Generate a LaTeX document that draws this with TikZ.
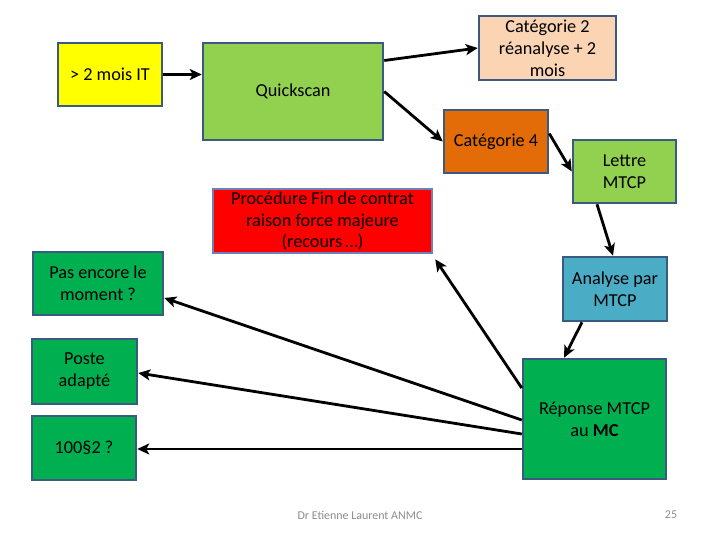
\documentclass[tikz,border=0pt]{standalone}
\usepackage{fontspec}
\setmainfont{Carlito}
\usetikzlibrary{arrows.meta,calc}
\definecolor{bordc}{HTML}{3A5A80}
\definecolor{bordp}{HTML}{6F7FB8}
\definecolor{cyel}{HTML}{FFFF00}
\definecolor{clgr}{HTML}{92D050}
\definecolor{cpea}{HTML}{FBD4B4}
\definecolor{corg}{HTML}{E36C09}
\definecolor{cred}{HTML}{FF0000}
\definecolor{cgrn}{HTML}{00B050}
\definecolor{cblu}{HTML}{4BACC6}
\definecolor{cfoot}{HTML}{8C8C8C}
\tikzset{
  box/.style={draw=bordc, line width=2.5bp, inner sep=0pt, align=center,
    font=\fontsize{18.3}{22}\selectfont, text=black},
  arr/.style={line width=2.8bp, -{Stealth[length=12bp,width=11bp,inset=3bp]}},
  foot/.style={font=\fontsize{12}{14}\selectfont, text=cfoot, inner sep=0pt}
}
\begin{document}
\begin{tikzpicture}[x=1bp,y=-1bp]
\useasboundingbox (0,0) rectangle (720,540);
\node[box, fill=cyel, minimum width=104bp, minimum height=63bp] (it) at (110,74.5) {> 2 mois IT};
\node[box, fill=clgr, minimum width=180bp, minimum height=97bp] (q) at (293,91.5) {\raisebox{-2bp}{Quickscan}};
\node[box, fill=cpea, minimum width=137bp, minimum height=64bp] (c2) at (547.5,48) {Catégorie 2\\réanalyse + 2\\mois};
\node[box, fill=corg, minimum width=104bp, minimum height=63bp] (c4) at (496,141.5) {Catégorie 4};
\node[box, fill=clgr, minimum width=103bp, minimum height=63bp] (lt) at (624.5,171.5) {Lettre\\MTCP};
\node[box, draw=bordp, fill=cred, minimum width=219bp, minimum height=64bp] (pr) at (322.5,221) {Procédure Fin de contrat\\raison force majeure\\(recours\,…)};
\node[box, fill=cgrn, minimum width=130bp, minimum height=63bp] (pe) at (98,283.5) {Pas encore le\\moment ?};
\node[box, fill=cgrn, minimum width=105bp, minimum height=65bp] (po) at (84.5,371.5) {Poste\\adapté};
\node[box, fill=cgrn, minimum width=104bp, minimum height=64bp] (hs) at (84,448) {100§2 ?};
\node[box, fill=cblu, minimum width=104bp, minimum height=64bp] (an) at (615,289) {Analyse par\\MTCP};
\node[box, fill=cgrn, minimum width=143bp, minimum height=120bp] (re) at (594.5,419) {Réponse MTCP\\au \textbf{MC}};

\draw[arr] (it.east) -- (q.west |- it.east);
\draw[arr] ($(q.east)+(0,-31)$) -- (c2.west);
\draw[arr] (q.east) -- (c4.west);
\draw[arr] ($(c4.east)+(0,-8)$) -- (lt.west);
\draw[arr] ($(lt.south)+(-27.5,0)$) -- ($(an.north)+(-2,0)$);
\draw[arr] ($(an.south)+(-33,0)$) -- ($(re.north)+(-30.5,0)$);
\draw[arr] ($(re.west)+(0,-31)$) -- ($(pr.south east)+(2,5)$);
\draw[arr] ($(re.west)+(0,1)$) -- ($(pe.east)+(0,14.5)$);
\draw[arr] ($(re.west)+(0,15)$) -- ($(po.east)+(0,1.5)$);
\draw[arr] ($(re.west)+(0,30)$) -- (hs.east |- {$(re.west)+(0,30)$});

\node[foot] (ft) at (360,515) {Dr Etienne Laurent ANMC};
\node[foot] (pg) at (671,515) {25};
\end{tikzpicture}
\end{document}
